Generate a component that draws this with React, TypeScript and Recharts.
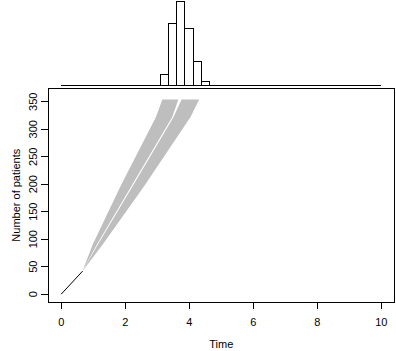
import {
  ComposedChart,
  Area,
  Line,
  XAxis,
  YAxis,
  ReferenceArea,
  ReferenceLine,
} from 'recharts';

const patientLevels = [0, 42, 90, 197, 322, 354];
const leftLow = [0, 0.67, 0.98, 1.86, 2.96, 3.16];
const leftHigh = [0, 0.67, 1.11, 2.2, 3.47, 3.66];
const rightLow = [0, 0.67, 1.14, 2.24, 3.51, 3.76];
const rightHigh = [0, 0.67, 1.29, 2.6, 4.04, 4.31];
// observed recruitment (black), first two levels
const observedTime = [0, 0.67];

const timeTicks = [0, 2, 4, 6, 8, 10];
const patientTicks = [0, 50, 100, 150, 200, 250, 300, 350];

// top panel: histogram of completion times
const binStart = [3.1, 3.35, 3.6, 3.86, 4.12, 4.39];
const binEnd = [3.35, 3.6, 3.86, 4.12, 4.39, 4.64];
const binCount = [8, 44, 60, 41, 17, 3];

const X_DOMAIN: [number, number] = [-0.4, 10.4];
const Y_DOMAIN: [number, number] = [-14.4, 374.4];
const FONT = '"Liberation Sans", Arial, sans-serif';
const FS = 11;

const fanData = patientLevels.map((y, i) => ({
  y,
  left: [leftLow[i], leftHigh[i]],
  right: [rightLow[i], rightHigh[i]],
  observed: i < observedTime.length ? observedTime[i] : undefined,
}));

const histData = binCount.map((c, i) => ({ mid: (binStart[i] + binEnd[i]) / 2, count: c }));

// eslint-disable-next-line @typescript-eslint/no-explicit-any
function XTick({ x, payload }: any) {
  return (
    <text x={x} y={325.5} textAnchor="middle" fontSize={FS} fontFamily={FONT} fill="#000">
      {payload.value}
    </text>
  );
}

// eslint-disable-next-line @typescript-eslint/no-explicit-any
function YTick({ y, payload }: any) {
  return (
    <text transform={`translate(36.8, ${y}) rotate(-90)`} textAnchor="middle" fontSize={FS} fontFamily={FONT} fill="#000">
      {payload.value}
    </text>
  );
}

export default function App() {
  return (
    <div style={{ position: 'absolute', left: 0, top: 0, width: 396, height: 351, background: '#fff' }}>
      <div style={{ position: 'absolute', left: 0, top: 0 }}>
        <ComposedChart width={396} height={86} data={histData} margin={{ top: 1.3, right: 1.9, bottom: 0.3, left: 48.4 }}>
          <XAxis type="number" dataKey="mid" domain={X_DOMAIN} allowDataOverflow hide />
          <YAxis type="number" domain={[0, 60]} allowDataOverflow hide />
          <ReferenceLine
            segment={[{ x: 0, y: 0 }, { x: 10, y: 0 }]}
            stroke="#000"
            strokeWidth={1}
            shapeRendering="crispEdges"
            ifOverflow="visible"
          />
          {binCount.map((c, i) => (
            <ReferenceArea
              key={i}
              x1={binStart[i]}
              x2={binEnd[i]}
              y1={0}
              y2={c}
              fill="#fff"
              fillOpacity={1}
              stroke="#000"
              strokeWidth={1}
              shapeRendering="crispEdges"
              ifOverflow="visible"
            />
          ))}
        </ComposedChart>
      </div>
      <div style={{ position: 'absolute', left: 0, top: 0 }}>
        <ComposedChart
          width={396}
          height={351}
          layout="vertical"
          data={fanData}
          margin={{ top: 88.3, right: 1.9, bottom: 0, left: 0.4 }}
        >
          <XAxis
            type="number"
            domain={X_DOMAIN}
            ticks={timeTicks}
            allowDataOverflow
            height={48.9}
            tickSize={7}
            axisLine={false}
            tickLine={{ stroke: '#000', shapeRendering: 'crispEdges' }}
            tick={<XTick />}
            label={{
              value: 'Time',
              // eslint-disable-next-line @typescript-eslint/no-explicit-any
              content: (p: any) => (
                <text x={p.viewBox.x + p.viewBox.width / 2} y={348.2} textAnchor="middle" fontSize={FS} fontFamily={FONT} fill="#000">
                  Time
                </text>
              ),
            }}
          />
          <YAxis
            type="number"
            dataKey="y"
            domain={Y_DOMAIN}
            ticks={patientTicks}
            reversed
            allowDataOverflow
            width={48}
            tickSize={7}
            axisLine={false}
            tickLine={{ stroke: '#000', shapeRendering: 'crispEdges' }}
            tick={<YTick />}
            label={{
              value: 'Number of patients',
              // eslint-disable-next-line @typescript-eslint/no-explicit-any
              content: (p: any) => (
                <text
                  transform={`translate(20, ${p.viewBox.y + p.viewBox.height / 2}) rotate(-90)`}
                  textAnchor="middle"
                  fontSize={FS}
                  fontFamily={FONT}
                  fill="#000"
                >
                  Number of patients
                </text>
              ),
            }}
          />
          <Area type="linear" dataKey="left" fill="#BEBEBE" fillOpacity={1} stroke="none" dot={false} activeDot={false} isAnimationActive={false} />
          <Area type="linear" dataKey="right" fill="#BEBEBE" fillOpacity={1} stroke="none" dot={false} activeDot={false} isAnimationActive={false} />
          <Line type="linear" dataKey="observed" stroke="#000" strokeWidth={1} dot={false} activeDot={false} isAnimationActive={false} />
          <ReferenceArea
            x1={X_DOMAIN[0]}
            x2={X_DOMAIN[1]}
            y1={Y_DOMAIN[0]}
            y2={Y_DOMAIN[1]}
            fill="none"
            stroke="#000"
            strokeWidth={1}
            shapeRendering="crispEdges"
            ifOverflow="visible"
          />
        </ComposedChart>
      </div>
    </div>
  );
}
